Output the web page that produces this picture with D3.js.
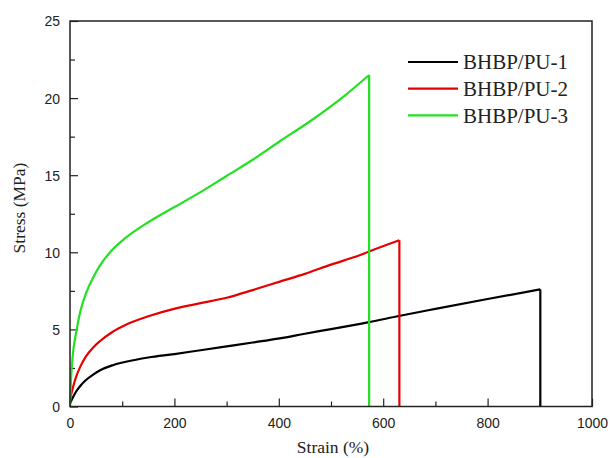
<!DOCTYPE html>
<html>
<head>
<meta charset="utf-8">
<script src="https://cdn.jsdelivr.net/npm/d3@7"></script>
<style>
  body { margin: 0; background: #fff; }
</style>
</head>
<body>
<div id="chart"></div>
<script>
// strain (%) / stress (MPa); last point is the break drop
const pu1Strain = [0, 5, 11.5, 20, 30.6, 45, 56, 82, 107, 150, 200, 250, 300, 350, 402, 450, 500, 556, 573, 630, 700, 800, 901, 901];
const pu1Stress = [0.2, 0.55, 0.96, 1.35, 1.72, 2.08, 2.32, 2.68, 2.9, 3.18, 3.4, 3.65, 3.9, 4.15, 4.42, 4.72, 5.02, 5.36, 5.47, 5.87, 6.33, 6.97, 7.6, 0];

const pu2Strain = [0, 5, 11.5, 20, 30.6, 45, 56, 82, 107, 150, 201, 250, 300, 350, 402, 450, 500, 556, 573, 631, 631];
const pu2Stress = [0.45, 1.15, 1.9, 2.6, 3.25, 3.85, 4.2, 4.85, 5.3, 5.85, 6.35, 6.7, 7.05, 7.55, 8.1, 8.6, 9.2, 9.82, 10.05, 10.78, 0];

const pu3Strain = [0, 1.9, 5, 11.5, 20, 30.6, 45, 56, 82, 107, 150, 201, 250, 300, 350, 402, 460, 524, 573, 573];
const pu3Stress = [0, 1.7, 3.2, 4.75, 6.2, 7.34, 8.4, 9.07, 10.2, 10.95, 11.95, 12.95, 13.9, 14.95, 16.0, 17.2, 18.5, 20.1, 21.5, 0];

const seriesNames = ["BHBP/PU-1", "BHBP/PU-2", "BHBP/PU-3"];
const seriesColors = ["#000000", "#e60000", "#22e022"];
const xTicks = [0, 200, 400, 600, 800, 1000];
const yTicks = [0, 5, 10, 15, 20, 25];

const width = 610, height = 458;
const margins = { top: 21, right: 18, bottom: 51.5, left: 70 };
const sans = "'Liberation Sans', Arial, sans-serif";
const serif = "'Liberation Serif', 'Times New Roman', serif";

const series = [
  pu1Strain.map((s, i) => [s, pu1Stress[i]]),
  pu2Strain.map((s, i) => [s, pu2Stress[i]]),
  pu3Strain.map((s, i) => [s, pu3Stress[i]])
];

const xScale = d3.scaleLinear().domain([0, 1000]).range([margins.left, width - margins.right]);
const yScale = d3.scaleLinear().domain([0, 25]).range([height - margins.bottom, margins.top]);

const svg = d3.select("#chart").append("svg")
  .attr("width", width)
  .attr("height", height);

// minor ticks first
svg.append("g")
  .attr("transform", `translate(0, ${yScale(0)})`)
  .call(d3.axisTop(xScale).tickValues(d3.range(100, 1000, 200)).tickSize(5).tickFormat(""))
  .call(g => g.select(".domain").remove())
  .selectAll("line").attr("stroke", "#222").attr("stroke-width", 1.2);

svg.append("g")
  .attr("transform", `translate(${xScale(0)}, 0)`)
  .call(d3.axisRight(yScale).tickValues(d3.range(2.5, 25, 5)).tickSize(5).tickFormat(""))
  .call(g => g.select(".domain").remove())
  .selectAll("line").attr("stroke", "#222").attr("stroke-width", 1.2);

// major ticks, inward
const xAxis = d3.axisBottom(xScale).tickValues(xTicks).tickSize(-8).tickPadding(12).tickFormat(d3.format("d"));
const yAxis = d3.axisLeft(yScale).tickValues(yTicks).tickSize(-8).tickPadding(10).tickFormat(d3.format("d"));

svg.append("g")
  .attr("transform", `translate(0, ${yScale(0)})`)
  .call(xAxis)
  .attr("font-family", sans)
  .attr("font-size", 14)
  .call(g => g.select(".domain").remove())
  .call(g => g.selectAll("line").attr("stroke", "#222").attr("stroke-width", 1.2))
  .call(g => g.selectAll("text").attr("fill", "#222"));

svg.append("g")
  .attr("transform", `translate(${xScale(0)}, 0)`)
  .call(yAxis)
  .attr("font-family", sans)
  .attr("font-size", 14)
  .call(g => g.select(".domain").remove())
  .call(g => g.selectAll("line").attr("stroke", "#222").attr("stroke-width", 1.2))
  .call(g => g.selectAll("text").attr("fill", "#222").attr("dy", "0.35em"));

// curves: smooth part, then the vertical break
const smooth = d3.line().x(d => xScale(d[0])).y(d => yScale(d[1])).curve(d3.curveMonotoneX);
const straight = d3.line().x(d => xScale(d[0])).y(d => yScale(d[1]));

series.forEach((pts, i) => {
  svg.append("path")
    .attr("d", smooth(pts.slice(0, -1)))
    .attr("fill", "none")
    .attr("stroke", seriesColors[i])
    .attr("stroke-width", 2.2)
    .attr("stroke-linejoin", "round");
  svg.append("path")
    .attr("d", straight(pts.slice(-2)))
    .attr("fill", "none")
    .attr("stroke", seriesColors[i])
    .attr("stroke-width", 2.2);
});

// frame
svg.append("rect")
  .attr("x", xScale(0))
  .attr("y", yScale(25))
  .attr("width", xScale(1000) - xScale(0))
  .attr("height", yScale(0) - yScale(25))
  .attr("fill", "none")
  .attr("stroke", "#222")
  .attr("stroke-width", 1.5);

// axis titles
svg.append("text")
  .attr("x", (xScale(0) + xScale(1000)) / 2 + 2)
  .attr("y", 453)
  .attr("text-anchor", "middle")
  .attr("font-family", serif)
  .attr("font-size", 17.5)
  .attr("fill", "#222")
  .text("Strain (%)");

svg.append("text")
  .attr("transform", `translate(25, 208) rotate(-90)`)
  .attr("text-anchor", "middle")
  .attr("font-family", serif)
  .attr("font-size", 17.5)
  .attr("fill", "#222")
  .text("Stress (MPa)");

// legend
const legend = svg.append("g").attr("transform", "translate(408, 62)");
seriesNames.forEach((name, i) => {
  legend.append("line")
    .attr("x1", 0).attr("x2", 50)
    .attr("y1", i * 26.7).attr("y2", i * 26.7)
    .attr("stroke", seriesColors[i])
    .attr("stroke-width", 2.2);
  legend.append("text")
    .attr("x", 55)
    .attr("y", i * 26.7)
    .attr("dy", "0.35em")
    .attr("font-family", serif)
    .attr("font-size", 21)
    .attr("fill", "#222")
    .text(name);
});
</script>
</body>
</html>
